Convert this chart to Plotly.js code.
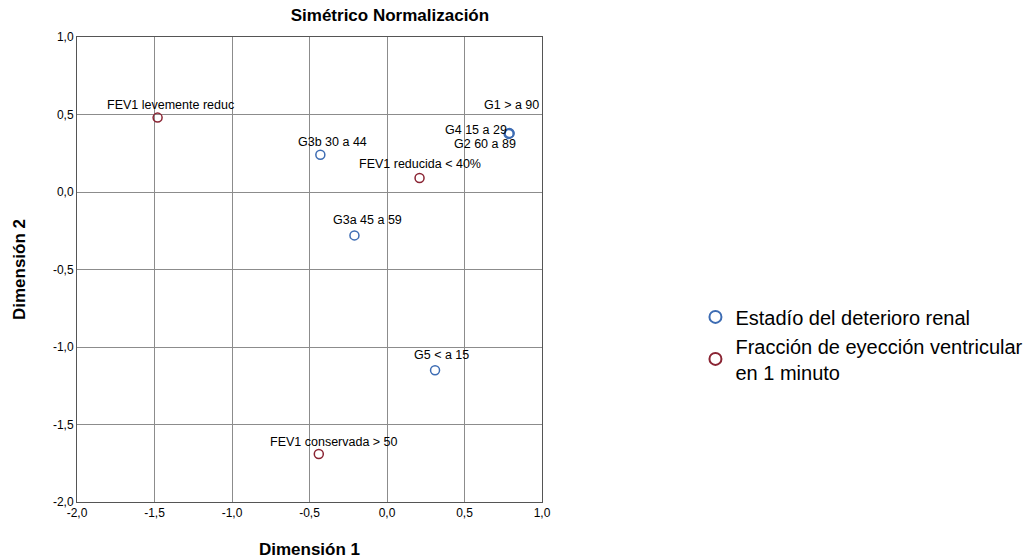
<!DOCTYPE html>
<html><head><meta charset="utf-8">
<script src="https://cdn.plot.ly/plotly-3.0.1.min.js"></script>
<style>body{margin:0;background:#fff;overflow:hidden}#c{width:1025px;height:559px}</style>
</head><body><div id="c"></div>
<script>
// Series 1: Estadío del deterioro renal
const renalLabels = ["G1 > a 90", "G4 15 a 29", "G2 60 a 89", "G3b 30 a 44", "G3a 45 a 59", "G5 < a 15"];
const renalX = [0.79, 0.785, 0.79, -0.43, -0.21, 0.31];
const renalY = [0.38, 0.375, 0.378, 0.24, -0.28, -1.15];
// Series 2: Fracción de eyección ventricular en 1 minuto
const fevLabels = ["FEV1 levemente reduc", "FEV1 reducida < 40%", "FEV1 conservada > 50"];
const fevX = [-1.48, 0.21, -0.44];
const fevY = [0.48, 0.09, -1.69];
// Tick labels
const tickVals = [-2, -1.5, -1, -0.5, 0, 0.5, 1];
const tickText = ["-2,0", "-1,5", "-1,0", "-0,5", "0,0", "0,5", "1,0"];
// label offsets (pixels) for each point
const renalShift = [[2, 28], [-33, 4], [-24, -11], [12, 13], [13, 15], [6, 15]];
const fevShift = [[13, 13], [0, 14], [15, 12]];

const blue = "#3d6cb3", red = "#8a2433";
const lblFont = {size: 12.5, color: "#000", family: "Liberation Sans, Arial"};
const traces = [
  {x: renalX, y: renalY, mode: "markers", type: "scatter", name: "Estadío del deterioro renal",
   marker: {symbol: "circle-open", size: 9, color: blue, line: {width: 1.5, color: blue}}, hoverinfo: "skip"},
  {x: fevX, y: fevY, mode: "markers", type: "scatter", name: "Fracción de eyección ventricular<br>en 1 minuto",
   marker: {symbol: "circle-open", size: 9, color: red, line: {width: 1.5, color: red}}, hoverinfo: "skip"}
];
const ann = [];
renalLabels.forEach((t, i) => ann.push({x: renalX[i], y: renalY[i], text: t, showarrow: false,
  xshift: renalShift[i][0], yshift: renalShift[i][1], font: lblFont}));
fevLabels.forEach((t, i) => ann.push({x: fevX[i], y: fevY[i], text: t, showarrow: false,
  xshift: fevShift[i][0], yshift: fevShift[i][1], font: lblFont}));

const axisCommon = {range: [-2, 1], tickmode: "array", tickvals: tickVals, ticktext: tickText,
  showgrid: true, gridcolor: "#8c8c8c", gridwidth: 1, zeroline: false, showline: true,
  linecolor: "#555", linewidth: 1, mirror: true, ticks: "", tickfont: {size: 12}};
const layout = {
  width: 1025, height: 559, paper_bgcolor: "#fff", plot_bgcolor: "#fff",
  font: {family: "Liberation Sans, Arial, sans-serif", color: "#000"},
  margin: {l: 77, r: 483, t: 37, b: 57, autoexpand: false},
  title: {text: "<b>Simétrico Normalización</b>", x: 0.673, xref: "paper", xanchor: "center", y: 1, yref: "container", yanchor: "top", pad: {t: 9}, font: {size: 17, color: "#000"}},
  xaxis: Object.assign({}, axisCommon, {title: {text: "<b>Dimensión 1</b>", font: {size: 17}, standoff: 24}}),
  yaxis: Object.assign({}, axisCommon, {title: {text: "<b>Dimensión 2</b>", font: {size: 17}, standoff: 22}}),
  showlegend: true,
  legend: {x: 1.33, xanchor: "left", y: 0.44, yanchor: "top", font: {size: 20, family: "Liberation Sans, Arial"},
    itemwidth: 30, tracegroupgap: 0, itemsizing: "constant", bgcolor: "rgba(0,0,0,0)"},
  annotations: ann
};
Plotly.newPlot("c", traces, layout, {staticPlot: true});
</script></body></html>
